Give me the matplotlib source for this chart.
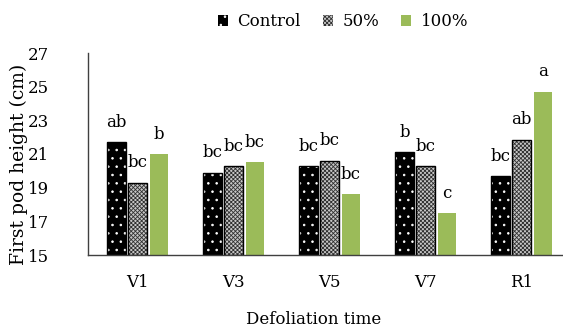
import matplotlib
matplotlib.use("Agg")
import matplotlib.pyplot as plt
import numpy as np
from matplotlib.patches import Patch

plt.rcParams['font.family'] = ['DejaVu Serif', 'Liberation Serif']
plt.rcParams['hatch.linewidth'] = 0.6

categories = ["V1", "V3", "V5", "V7", "R1"]
series_names = ["Control", "50%", "100%"]
control = [21.7, 19.9, 20.3, 21.1, 19.7]
half = [19.3, 20.3, 20.6, 20.3, 21.85]
full = [21.0, 20.5, 18.6, 17.5, 24.7]
letters_control = ["ab", "bc", "bc", "b", "bc"]
letters_half = ["bc", "bc", "bc", "bc", "ab"]
letters_full = ["b", "bc", "bc", "c", "a"]
yticks = [15, 17, 19, 21, 23, 25, 27]

fig = plt.figure(figsize=(5.63, 3.29), dpi=100)
ax = fig.add_axes([88/563, (329-255)/329, (563-88)/563, 202/329])

x = np.arange(len(categories))
w = 0.19
off = 0.22
base = 15
FS = 12

# Control: black with white dots
ax.bar(x - off, np.array(control) - base, w, bottom=base, color='black',
       edgecolor='white', hatch='..', linewidth=0)
ax.bar(x - off, np.array(control) - base, w, bottom=base, facecolor='none',
       edgecolor='black', linewidth=1)
# 50%: gray stipple
ax.bar(x, np.array(half) - base, w, bottom=base, color='#c8c8c8',
       edgecolor='#303030', hatch='xxxxxxxx', linewidth=0)
ax.bar(x, np.array(half) - base, w, bottom=base, facecolor='none',
       edgecolor='black', linewidth=1)
# 100%: green
ax.bar(x + off, np.array(full) - base, w, bottom=base, color='#9bbb59', linewidth=0)

for xs, vals, labs in [(x - off, control, letters_control), (x, half, letters_half),
                       (x + off, full, letters_full)]:
    for xi, v, l in zip(xs, vals, labs):
        ax.annotate(l, (xi, v), xytext=(0, 11), textcoords='offset points',
                    ha='center', va='baseline', fontsize=FS)

ax.set_xlim(-0.516, 4.432)
ax.set_ylim(15, 27)
ax.set_yticks(yticks)
ax.set_xticks(x)
ax.set_xticklabels(categories)
ax.tick_params(axis='both', length=0, labelsize=FS)
ax.tick_params(axis='y', pad=28)
ax.tick_params(axis='x', pad=14)
for s in ['top', 'right']:
    ax.spines[s].set_visible(False)
for s in ['left', 'bottom']:
    ax.spines[s].set_color('#404040')
    ax.spines[s].set_linewidth(1)

ax.set_ylabel("First pod height (cm)", fontsize=13.5)
ax.yaxis.set_label_coords(-0.127, 0.45)
ax.set_xlabel("Defoliation time", fontsize=FS)
ax.xaxis.set_label_coords((314-88)/(563-88), -0.275)

handles = [
    Patch(facecolor='black', edgecolor='white', hatch='..', linewidth=0),
    Patch(facecolor='#c8c8c8', edgecolor='#303030', hatch='xxxxxxxx', linewidth=0),
    Patch(facecolor='#9bbb59', linewidth=0),
]
fig.legend(handles, series_names, loc='center', bbox_to_anchor=(343/563, 1 - 22/329),
           ncol=3, frameon=False, fontsize=FS, handlelength=0.6, handleheight=0.6,
           handletextpad=0.6, columnspacing=1.3)

fig.savefig("out.png", dpi=100)
